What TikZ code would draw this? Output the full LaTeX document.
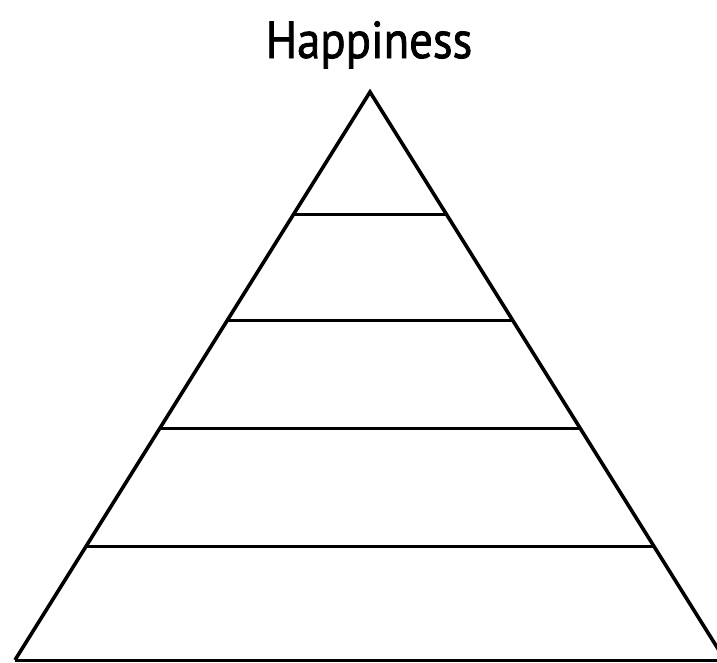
\documentclass[tikz,border=0pt]{standalone}
\usepackage{fontspec}
\setmainfont{PT Sans}
\newfontfamily\titlefont[FakeBold=1.6]{PT Sans}
\begin{document}
\begin{tikzpicture}[x=1pt,y=-1pt,
  side/.style={line width=3.6pt,line join=miter},
  tier/.style={line width=3pt}]
\useasboundingbox (0,0) rectangle (717,662);
\clip (0,0) rectangle (717,662);
\node[font=\titlefont\fontsize{52}{60}\selectfont,anchor=base,xscale=0.9] (title) at (369,58) {Happiness};
\coordinate (apex) at (370,92);
\coordinate (bl) at (15,660);
\coordinate (br) at (725,660);
\draw[side] (bl) -- (apex) -- (br);
\draw[tier] (bl) -- (br);
\foreach \y [count=\i] in {215,320,428,546}{
  \path (apex) -- (bl) coordinate[pos={(\y-92)/568}] (l\i);
  \path (apex) -- (br) coordinate[pos={(\y-92)/568}] (r\i);
  \draw[tier] (l\i) -- (r\i);
}
\end{tikzpicture}
\end{document}
